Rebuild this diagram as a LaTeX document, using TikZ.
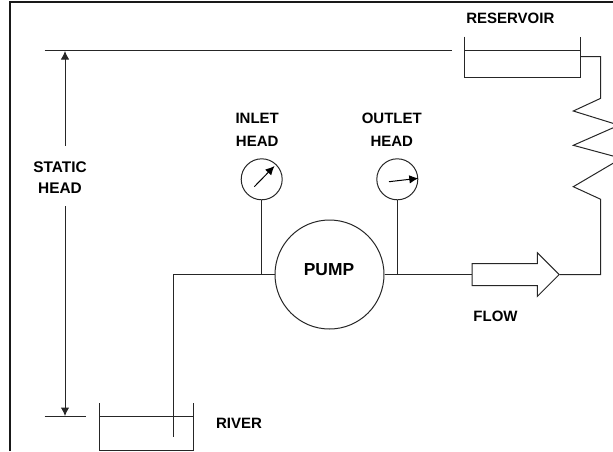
\documentclass[tikz,border=0pt]{standalone}
\usepackage{fontspec}
\setmainfont{Liberation Sans}
\usetikzlibrary{arrows.meta,shapes,positioning}
\tikzstyle{pipe} = [line width=1pt,color=black!85]
\tikzstyle{level} = [line width=1pt,color=black!85,>={Latex[length=8.5pt,width=8.5pt]}]
\tikzstyle{needle} = [line width=1pt,->,>={Latex[length=9pt,width=8.5pt]}]
\tikzstyle{label} = [inner sep=0pt, font=\fontsize{15pt}{22.5pt}\selectfont\bfseries, align=center]
\tikzstyle{pumpbody} = [circle, minimum size=109pt, inner sep=0pt, draw=black!85, line width=1pt]
\tikzstyle{gauge} = [circle, minimum size=41pt, inner sep=0pt, draw=black!85, line width=1pt]
\tikzstyle{flowarrow} = [single arrow, anchor=tail, minimum height=87pt, minimum width=42.7pt, inner xsep=0pt, inner ysep=10.5pt, single arrow head extend=10.8pt, draw=black!85, line width=1pt]
\begin{document}
\begin{tikzpicture}[x=1pt,y=-1pt]
\useasboundingbox (0,0) rectangle (613,451);
\clip (0,0) rectangle (613,451);
% Frame
\coordinate (framebl) at (9.5,451);
\coordinate (frametl) at (9.5,1.5);
\coordinate (frametr) at (613,1.5);
\draw[line width=2pt, color=black!90] (framebl) -- (frametl) -- (frametr);

% Pump and gauges
\node (pump) [pumpbody] at (329.5,274.5) {};
\node (pumptext) [label, font=\fontsize{17.4pt}{20pt}\selectfont\bfseries] at (329,270) {PUMP};
\node (inlet) [gauge] at (261.7,179.3) {};
\node (outlet) [gauge, right of=inlet, node distance=135.6pt] {};
\node (inlettext) [label, above of=inlet, node distance=49.5pt, xshift=-4.5pt] {INLET\\HEAD};
\node (outlettext) [label, above of=outlet, node distance=49.5pt, xshift=-5.5pt] {OUTLET\\HEAD};
\coordinate (inletjoin) at (inlet |- pump);
\coordinate (outletjoin) at (outlet |- pump);
\coordinate (inletfrom) at (254.3,186.7);
\coordinate (inletto) at (274.5,166);
\coordinate (outletfrom) at (389,181.7);
\coordinate (outletto) at (418.3,178.3);

% Tanks
\coordinate (rivertl) at (99,403);
\coordinate (riverbl) at (99,450.3);
\coordinate (riverbr) at (193.5,450.3);
\coordinate (rivertr) at (193.5,403);
\coordinate (riverwl) at (99,416.5);
\coordinate (riverwr) at (193.5,416.5);
\coordinate (restl) at (464.7,36.7);
\coordinate (resbl) at (464.7,77.7);
\coordinate (resbr) at (580.2,77.7);
\coordinate (restr) at (580.2,36.7);
\coordinate (reswl) at (464.7,50.5);
\coordinate (reswr) at (580.2,50.5);
\node (rivertext) [label] at (239,423.5) {RIVER};
\node (restext) [label] at (510.3,18) {RESERVOIR};

% Flow
\node (flow) [flowarrow] at (471.7,274.5) {};
\node (flowtext) [label] at (495.5,316) {FLOW};

% Static head
\node (statictext) [label, font=\fontsize{15.4pt}{21pt}\selectfont\bfseries] at (60,177.5) {STATIC\\HEAD};
\coordinate (highl) at (44.5,50.5);
\coordinate (highr) at (452,50.5);
\coordinate (lowl) at (44.5,416.5);
\coordinate (lowr) at (86,416.5);
\coordinate (hightip) at (65,51);
\coordinate (lowtip) at (65,416);
\coordinate (highend) at (65,145.7);
\coordinate (lowend) at (65,206);

% Pipe ends
\coordinate (intake) at (173.5,436.5);
\coordinate (outfall) at (581,56.7);
\coordinate (coiltop) at (600.7,98.3);
\coordinate (coilbot) at (600.7,199.3);
\coordinate (coila) at (573.3,111);
\coordinate (coilb) at (619,125.2);
\coordinate (coilc) at (573.3,145.3);
\coordinate (coild) at (621.5,158.3);
\coordinate (coile) at (573.3,186.7);

% Connections
\draw[pipe] (rivertl) -- (riverbl) -- (riverbr) -- (rivertr);
\draw[pipe] (riverwl) -- (riverwr);
\draw[pipe] (restl) -- (resbl) -- (resbr) -- (restr);
\draw[pipe] (reswl) -- (reswr);
\draw[pipe] (highl) -- (highr);
\draw[pipe] (lowl) -- (lowr);
\draw[level, <-] (hightip) -- (highend);
\draw[level, ->] (lowend) -- (lowtip);
\draw[pipe] (intake) |- (pump.west);
\draw[pipe] (inlet) -- (inletjoin);
\draw[pipe] (outlet) -- (outletjoin);
\draw[pipe] (pump.east) -- (flow.tail);
\draw[pipe] (flow.tip) -| (coilbot) -- (coile) -- (coild) -- (coilc) -- (coilb) -- (coila) -- (coiltop) |- (outfall);
\draw[needle] (inletfrom) -- (inletto);
\draw[needle] (outletfrom) -- (outletto);
\end{tikzpicture}
\end{document}
